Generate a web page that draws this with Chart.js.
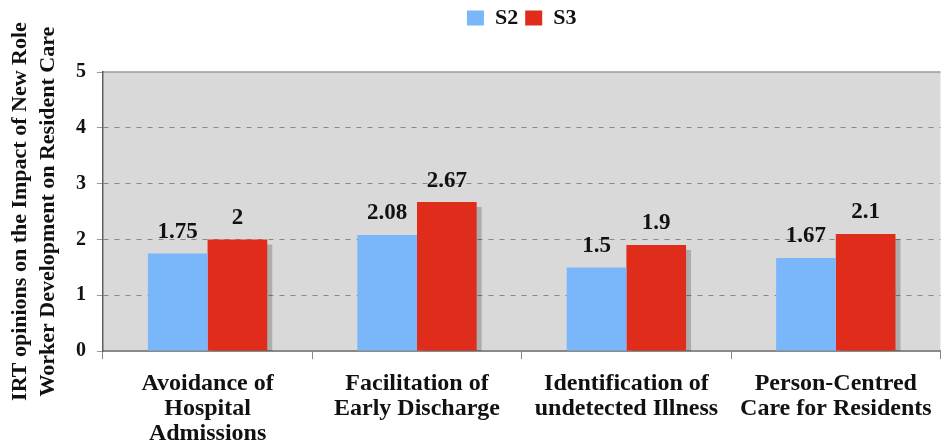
<!DOCTYPE html>
<html>
<head>
<meta charset="utf-8">
<script src="https://cdn.jsdelivr.net/npm/chart.js@4"></script>
<style>
  html, body { margin: 0; padding: 0; background: #fff; }
  #wrap { width: 944px; height: 446px; }
</style>
</head>
<body>
<div id="wrap"><canvas id="myChart" width="944" height="446"></canvas></div>
<script>
const categories = [
    ['Avoidance of', 'Hospital', 'Admissions'],
    ['Facilitation of', 'Early Discharge'],
    ['Identification of', 'undetected Illness'],
    ['Person-Centred', 'Care for Residents']
];
const s2Values = [1.75, 2.08, 1.5, 1.67];
const s3Values = [2, 2.67, 1.9, 2.1];
const s2Labels = ['1.75', '2.08', '1.5', '1.67'];
const s3Labels = ['2', '2.67', '1.9', '2.1'];
const yTicks = [0, 1, 2, 3, 4, 5];
const yTitle = ['IRT opinions on the Impact of New Role', 'Worker Development on Resident Care'];

const serif = '"Liberation Serif", "Times New Roman", serif';

// grey plot background + solid top border
const plotBg = {
    id: 'plotBg',
    beforeDraw(chart) {
        const { ctx, chartArea: a } = chart;
        ctx.save();
        ctx.fillStyle = '#d9d9d9';
        ctx.fillRect(a.left, a.top, a.right - a.left, a.bottom - a.top);
        ctx.strokeStyle = '#9a9a9a';
        ctx.lineWidth = 1.5;
        ctx.beginPath();
        ctx.moveTo(a.left, a.top);
        ctx.lineTo(a.right, a.top);
        ctx.stroke();
        ctx.restore();
    }
};

// extra room between legend and plot
const legendGap = {
    id: 'legendGap',
    beforeInit(chart) {
        const fit = chart.legend.fit;
        chart.legend.fit = function () {
            fit.bind(chart.legend)();
            this.height += 33;
        };
    }
};

// drop shadow on the S3 bars
const barShadow = {
    id: 'barShadow',
    beforeDatasetDraw(chart, args) {
        const ctx = chart.ctx;
        ctx.save();
        if (args.index === 1) {
            ctx.shadowColor = 'rgba(0,0,0,0.2)';
            ctx.shadowOffsetX = 5;
            ctx.shadowOffsetY = 5;
            ctx.shadowBlur = 0;
        }
    },
    afterDatasetDraw(chart) {
        chart.ctx.restore();
    }
};

// value labels above the bars
const valueLabels = {
    id: 'valueLabels',
    afterDatasetsDraw(chart) {
        const ctx = chart.ctx;
        const texts = [s2Labels, s3Labels];
        ctx.save();
        ctx.font = 'bold 23px ' + serif;
        ctx.fillStyle = '#111';
        ctx.textAlign = 'center';
        ctx.textBaseline = 'bottom';
        chart.data.datasets.forEach((ds, i) => {
            chart.getDatasetMeta(i).data.forEach((bar, j) => {
                ctx.fillText(texts[i][j], bar.x, bar.y - 10);
            });
        });
        ctx.restore();
    }
};

const ctx = document.getElementById('myChart').getContext('2d');
new Chart(ctx, {
    type: 'bar',
    data: {
        labels: categories,
        datasets: [{
            label: 'S2',
            data: s2Values,
            backgroundColor: '#7ab6fa',
            borderWidth: 0,
            clip: 0
        }, {
            label: 'S3',
            data: s3Values,
            backgroundColor: '#e02d1b',
            borderWidth: 0,
            clip: 0
        }]
    },
    options: {
        responsive: false,
        animation: false,
        layout: { padding: { top: 0, right: -4, left: 4, bottom: 0 } },
        datasets: {
            bar: { categoryPercentage: 0.57, barPercentage: 1 }
        },
        plugins: {
            legend: {
                position: 'top',
                fullSize: false,
                labels: {
                    font: { family: serif, size: 22, weight: 'bold' },
                    color: '#111',
                    boxWidth: 17,
                    boxHeight: 15,
                    padding: 7
                }
            },
            tooltip: { enabled: false }
        },
        scales: {
            x: {
                afterFit(axis) {
                    axis.height -= 12;
                },
                grid: {
                    offset: true,
                    drawOnChartArea: false,
                    tickLength: 8,
                    tickColor: '#888',
                    tickWidth: 1
                },
                border: { color: '#8a8a8a', width: 2 },
                ticks: {
                    font: { family: serif, size: 24, weight: 'bold', lineHeight: 1.04 },
                    color: '#111',
                    padding: 12,
                    maxRotation: 0,
                    autoSkip: false
                }
            },
            y: {
                min: 0,
                max: 5,
                afterBuildTicks(axis) {
                    axis.ticks = yTicks.map(v => ({ value: v }));
                },
                grid: {
                    color: c => (c.tick.value === 0 || c.tick.value === 5) ? 'rgba(0,0,0,0)' : '#888',
                    lineWidth: 1,
                    tickLength: 6,
                    tickColor: '#999',
                    tickBorderDash: [],
                    drawTicks: true
                },
                border: { color: '#606060', width: 1.5, dash: [5, 6] },
                ticks: {
                    font: { family: serif, size: 20, weight: 'bold' },
                    color: '#111',
                    padding: 11
                },
                title: {
                    display: true,
                    text: yTitle,
                    font: { family: serif, size: 22, weight: 'bold', lineHeight: 1.27 },
                    color: '#111',
                    padding: { top: 2, bottom: 3 }
                }
            }
        }
    },
    plugins: [legendGap, plotBg, barShadow, valueLabels]
});
</script>
</body>
</html>
